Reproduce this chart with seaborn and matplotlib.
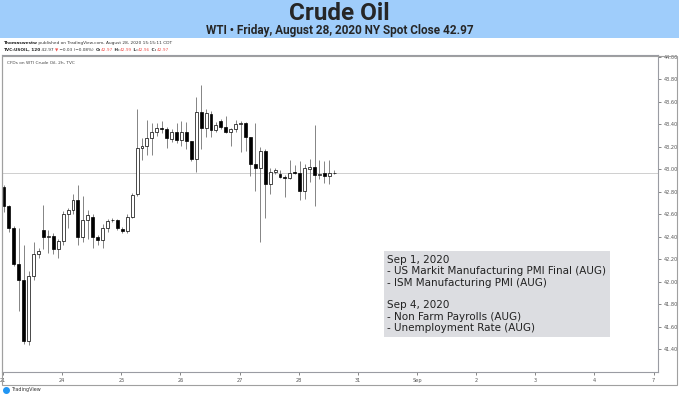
import numpy as np
import pandas as pd
import matplotlib.pyplot as plt
import seaborn as sns
from matplotlib.patches import Rectangle

# 2h candles, WTI, Aug 21 - Aug 28 2020
opens = [42.84, 42.67, 42.48, 42.16, 42.02, 41.47, 42.05, 42.25, 42.46, 42.40,
         42.41, 42.29, 42.36, 42.60, 42.64, 42.73, 42.40, 42.55, 42.58, 42.40,
         42.37, 42.48, 42.55, 42.55, 42.47, 42.45, 42.58, 42.78, 43.19, 43.21,
         43.28, 43.33, 43.37, 43.36, 43.27, 43.33, 43.26, 43.33, 43.25, 43.09,
         43.51, 43.37, 43.49, 43.35, 43.43, 43.38, 43.33, 43.36, 43.40, 43.41,
         43.29, 43.05, 43.01, 43.16, 42.87, 42.98, 42.96, 42.93, 42.92, 42.98,
         42.97, 42.81, 43.00, 43.02, 42.95, 42.97, 42.94, 42.97]
highs = [42.86, 42.68, 42.50, 42.48, 42.33, 42.10, 42.35, 42.30, 42.68, 42.46,
         42.43, 42.38, 42.63, 42.66, 42.78, 42.86, 42.76, 42.64, 42.60, 42.42,
         42.51, 42.56, 42.57, 42.56, 42.49, 42.60, 42.79, 43.54, 43.28, 43.44,
         43.41, 43.41, 43.43, 43.38, 43.36, 43.41, 43.43, 43.42, 43.25, 43.64,
         43.75, 43.54, 43.52, 43.42, 43.45, 43.47, 43.37, 43.44, 43.43, 43.42,
         43.29, 43.41, 43.20, 43.18, 43.01, 43.01, 42.99, 42.95, 43.08, 43.04,
         43.07, 43.05, 43.09, 43.39, 43.08, 43.07, 43.08, 42.99]
lows = [42.62, 42.44, 42.14, 41.74, 41.45, 41.44, 42.02, 42.21, 42.29, 42.26,
        42.25, 42.21, 42.33, 42.48, 42.60, 42.33, 42.35, 42.38, 42.30, 42.33,
        42.30, 42.44, 42.53, 42.46, 42.43, 42.43, 42.57, 42.76, 43.08, 43.13,
        43.13, 43.30, 43.32, 43.19, 43.24, 43.23, 43.21, 43.18, 43.07, 42.98,
        43.18, 43.29, 43.29, 43.33, 43.36, 43.32, 43.21, 43.33, 43.15, 43.16,
        42.94, 42.81, 42.35, 42.57, 42.78, 42.96, 42.92, 42.75, 42.91, 42.96,
        42.73, 42.74, 42.89, 42.67, 42.91, 42.88, 42.87, 42.96]
closes = [42.67, 42.48, 42.16, 42.02, 41.47, 42.05, 42.25, 42.27, 42.40, 42.41,
          42.29, 42.36, 42.60, 42.64, 42.73, 42.40, 42.55, 42.59, 42.40, 42.37,
          42.48, 42.54, 42.55, 42.48, 42.45, 42.58, 42.77, 43.19, 43.21, 43.28,
          43.33, 43.37, 43.36, 43.28, 43.33, 43.26, 43.33, 43.25, 43.09, 43.51,
          43.37, 43.50, 43.35, 43.39, 43.38, 43.33, 43.36, 43.40, 43.41, 43.29,
          43.05, 43.01, 43.16, 42.87, 42.98, 42.99, 42.93, 42.92, 42.97, 42.97,
          42.81, 43.01, 43.02, 42.95, 42.96, 42.94, 42.97, 42.97]

day_labels = ['21', '24', '25', '26', '27', '28', '31', 'Sep', '2', '3', '4', '7']
price_ticks = [41.4, 41.6, 41.8, 42.0, 42.2, 42.4, 42.6, 42.8, 43.0, 43.2,
               43.4, 43.6, 43.8, 44.0]
spot_close = 42.97

title = 'Crude Oil'
subtitle = 'WTI \u2022 Friday, August 28, 2020 NY Spot Close 42.97'
events = ['Sep 1, 2020',
          '- US Markit Manufacturing PMI Final (AUG)',
          '- ISM Manufacturing PMI (AUG)',
          '',
          'Sep 4, 2020',
          '- Non Farm Payrolls (AUG)',
          '- Unemployment Rate (AUG)']

sns.set_style('white')
plt.rcParams['font.family'] = ['DejaVu Sans']

W, H = 679, 396
fig = plt.figure(figsize=(W / 100, H / 100), dpi=100)

# chart area in pixels
left, right, top, bottom = 2, 658, 55, 372
ax = fig.add_axes([left / W, 1 - bottom / H, (right - left) / W, (bottom - top) / H])

df = pd.DataFrame({'open': opens, 'high': highs, 'low': lows, 'close': closes})
df['x'] = np.arange(len(df))
up = df['close'] >= df['open']

ax.axhline(spot_close, color='#cfcfcf', lw=0.7, zorder=1)
ax.vlines(df['x'], df['low'], df['high'], color='#707070', lw=0.6, zorder=2)
ax.bar(df['x'], (df['close'] - df['open']).abs(),
       bottom=df[['open', 'close']].min(axis=1), width=0.6,
       color=np.where(up, 'white', 'black'), edgecolor='black',
       linewidth=0.5, zorder=3)

ax.set_xlim(-0.41, 132.7)
ax.set_ylim(41.198, 44.016)
ax.yaxis.tick_right()
ax.set_yticks(price_ticks)
ax.set_yticklabels(['%.2f' % p for p in price_ticks])
ax.set_xticks([12 * i - 0.2 for i in range(len(day_labels))])
ax.set_xticklabels(day_labels)
ax.tick_params(axis='both', labelsize=3.6, colors='#555555', length=2,
               width=0.5, pad=2)
ax.tick_params(axis='y', right=True, left=False)
ax.tick_params(axis='x', bottom=True)
for s in ax.spines.values():
    s.set_color('#9a9ca3')
    s.set_linewidth(0.8)
ax.grid(False)

# overlay in pixel coordinates for banner, header and notes
ov = fig.add_axes([0, 0, 1, 1])
ov.axis('off')
ov.set_xlim(0, W)
ov.set_ylim(H, 0)

narrow = ['Liberation Sans Narrow', 'Roboto', 'DejaVu Sans']
ov.add_patch(Rectangle((0, 0), W, 38, fc='#9fcdfb', ec='none'))
ov.text(W / 2, 14, title, ha='center', va='center', fontsize=17.5,
        weight='bold', family=narrow)
ov.text(W / 2, 30.5, subtitle, ha='center', va='center', fontsize=8.5,
        weight='bold', family=narrow)

# outer frame
ov.add_patch(Rectangle((2, 56), 675, 329, fill=False, ec='#a0a0a0', lw=0.8))

t = ov.text(3, 43, 'Thomaswestw', fontsize=3.1, weight='bold', va='center')
ov.annotate(' published on TradingView.com, August 28, 2020 15:15:11 CDT',
            xy=(1, 0), xycoords=t, va='bottom', fontsize=3.1, color='#333333')

red = '#ef5350'
parts = [(' 42.97 ', '#333333'), ('\u25bc', red), (' \u22120.03 (\u22120.08%) ', '#333333'),
         ('O:', '#333333'), ('42.97', red), (' H:', '#333333'), ('42.99', red),
         (' L:', '#333333'), ('42.96', red), (' C:', '#333333'), ('42.97', red)]
t = ov.text(3, 50, 'TVC:USOIL, 120', fontsize=3.1, weight='bold', va='center')
for s, c in parts:
    bold = 'bold' if s.strip().endswith(':') else 'normal'
    t = ov.annotate(s, xy=(1, 0), xycoords=t, va='bottom', fontsize=3.1,
                    color=c, weight=bold)

ov.text(7, 63, 'CFDs on WTI Crude Oil, 2h, TVC', fontsize=3.1, color='#444444',
        va='center')

# event box
ov.add_patch(Rectangle((384, 251), 226, 86, fc='#dcdde1', ec='none'))
for i, line in enumerate(events):
    if line:
        ov.text(387, 260 + i * 11.3, line, fontsize=7.5, color='#222222',
                va='center')

# TradingView footer
ov.plot([6], [390], marker='o', ms=4, color='#2196f3')
ov.text(11, 390, 'TradingView', fontsize=3.5, color='#333333', va='center')

fig.savefig('out.png', dpi=100)
